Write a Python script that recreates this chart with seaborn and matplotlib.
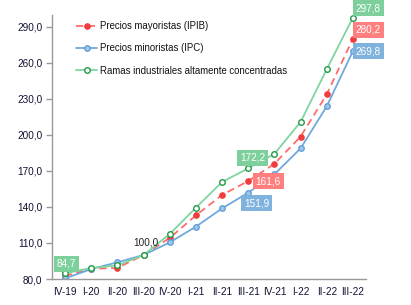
import numpy as np
import pandas as pd
import seaborn as sns
import matplotlib
matplotlib.use("Agg")
import matplotlib.pyplot as plt

# quarterly indices (III-20 = 100)
periods = ["IV-19", "I-20", "II-20", "III-20", "IV-20", "I-21", "II-21",
           "III-21", "IV-21", "I-22", "II-22", "III-22"]
ipib = [82.5, 88.5, 89.2, 100.0, 114.2, 133.0, 150.0, 161.6, 176.0, 198.6, 233.8, 280.2]
ipc = [80.5, 88.3, 93.9, 100.0, 110.5, 123.6, 138.8, 151.9, 167.2, 188.8, 223.8, 269.8]
ramas = [84.7, 89.2, 91.3, 100.0, 117.5, 139.4, 160.8, 172.2, 184.2, 210.8, 254.7, 297.8]

names = ["Precios mayoristas (IPIB)", "Precios minoristas (IPC)",
         "Ramas industriales altamente concentradas"]

df = pd.DataFrame({"periodo": periods * 3,
                   "valor": ipib + ipc + ramas,
                   "serie": np.repeat(names, len(periods))})

sns.set_style("white")
plt.rcParams["font.family"] = ["Liberation Sans", "DejaVu Sans"]

fig = plt.figure(figsize=(4.11, 3.05), dpi=100)
ax = fig.add_axes([0.1265, 0.0852, 0.764, 0.866])

red = "#ff6b6b"
blue = "#6fa8dc"
green = "#7fd4a0"

sns.lineplot(data=df[df.serie == names[0]], x="periodo", y="valor", ax=ax,
             color=red, lw=1.3, label=names[0],
             marker="o", markersize=4, markerfacecolor="#f03c3c",
             markeredgecolor="#f03c3c")
ax.lines[-1].set_dashes([4, 2.5])
sns.lineplot(data=df[df.serie == names[1]], x="periodo", y="valor", ax=ax,
             color=blue, lw=1.3, label=names[1],
             marker="o", markersize=4, markerfacecolor="#9cc6ea",
             markeredgecolor="#5d9bd3", markeredgewidth=0.9)
sns.lineplot(data=df[df.serie == names[2]], x="periodo", y="valor", ax=ax,
             color=green, lw=1.3, label=names[2],
             marker="o", markersize=4, markerfacecolor="white",
             markeredgecolor="#1f9a45", markeredgewidth=1.0)

ax.set_ylim(80, 300)
ax.set_xlim(-0.5, len(periods) - 0.5)
ax.set_yticks(np.arange(80, 291, 30))
ax.set_yticklabels([f"{v:.1f}".replace(".", ",") for v in np.arange(80, 291, 30)])
ax.set_xticks(range(len(periods)))
ax.set_xticklabels(periods)
ax.set_xticks(np.arange(-0.5, len(periods)), minor=True)
ax.tick_params(axis="x", which="major", length=0, pad=6, labelsize=7.2,
               labelcolor="#111133")
ax.tick_params(axis="x", which="minor", length=4, color="#999999", width=1)
ax.tick_params(axis="y", length=4, color="#999999", width=1, labelsize=7.2,
               left=True, pad=3, labelcolor="#111133")
ax.set_xlabel("")
ax.set_ylabel("")
for s in ["top", "right"]:
    ax.spines[s].set_visible(False)
for s in ["left", "bottom"]:
    ax.spines[s].set_color("#999999")
    ax.spines[s].set_linewidth(1)

leg = ax.legend(loc="upper left", frameon=False, fontsize=6.9,
                bbox_to_anchor=(0.05, 1.01), handlelength=2.2,
                labelspacing=1.3, handletextpad=0.3)
for t in leg.get_texts():
    t.set_color("#111111")


def tag(i, vals, color, dx, dy, box=True):
    txt = f"{vals[i]:.1f}".replace(".", ",")
    kw = dict(xy=(i, vals[i]), xytext=(dx, dy), textcoords="offset points",
              ha="center", va="center", fontsize=7.2)
    if box:
        kw.update(color="white",
                  bbox=dict(boxstyle="square,pad=0.3", fc=color, ec="none"))
    else:
        kw.update(color="#222222")
    ax.annotate(txt, **kw)


tag(0, ramas, "#7dcf9b", 1, 7)
tag(3, ramas, None, 1.5, 9, box=False)
tag(7, ramas, "#7dcf9b", 3, 7.5)
tag(7, ipib, "#ff7f7f", 14.5, 0)
tag(7, ipc, "#7fb2dc", 6, -7.5)
tag(11, ramas, "#7dcf9b", 11, 6.5)
tag(11, ipib, "#ff7f7f", 11, 6.5)
tag(11, ipc, "#7fb2dc", 11, 0)

fig.savefig("out.png", dpi=100)
